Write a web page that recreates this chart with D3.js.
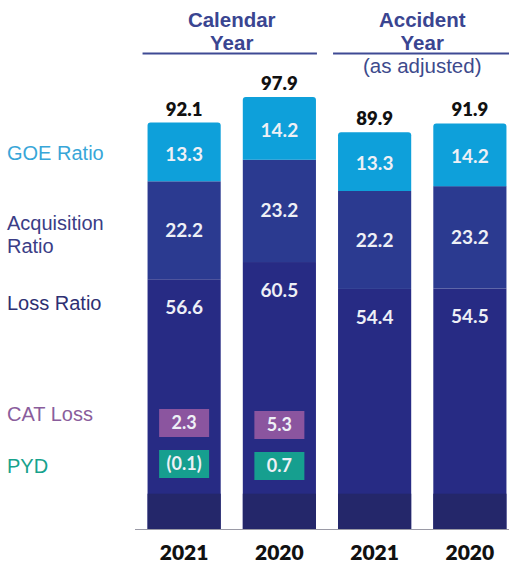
<!DOCTYPE html>
<html><head><meta charset="utf-8">
<script src="https://cdn.jsdelivr.net/npm/d3@7"></script>
<style>
html,body{margin:0;padding:0;background:#fff;}
svg{display:block;}
</style></head>
<body>
<svg id="chart" width="509" height="567"></svg>
<script>
// ---- data ----
const ids = ["cy2021", "cy2020", "ay2021", "ay2020"];
const years = ["2021", "2020", "2021", "2020"];
const groups = ["Calendar Year", "Calendar Year", "Accident Year", "Accident Year"];
const lossRatio = [56.6, 60.5, 54.4, 54.5];
const acqRatio = [22.2, 23.2, 22.2, 23.2];
const goeRatio = [13.3, 14.2, 13.3, 14.2];
const totals = [92.1, 97.9, 89.9, 91.9];
const catLoss = [2.3, 5.3, null, null];
const pyd = [-0.1, 0.7, null, null];
const seriesNames = ["Loss Ratio", "Acquisition Ratio", "GOE Ratio"];
const legendLabels = [["GOE Ratio"], ["Acquisition", "Ratio"], ["Loss Ratio"], ["CAT Loss"], ["PYD"]];
const baseBandValue = 8;

// ---- styling ----
const colors = {"Loss Ratio": "#272b84", "Acquisition Ratio": "#2b3a90", "GOE Ratio": "#0ea0da"};
const legendColors = ["#38a6d8", "#3a3d86", "#2d2f72", "#8a5d9c", "#17a28c"];
const legendY = [160, 230, 310, 421, 473];
const boxRowY = [424, 465];

const svg = d3.select("#chart");
const x = d3.scaleBand().domain(ids).range([136.5, 517.5]).paddingInner(0.232).paddingOuter(0.116);
const y = d3.scaleLinear().domain([0, 97.9]).range([529, 97]);
const bw = x.bandwidth();

const rows = ids.map((id, i) => ({id, "Loss Ratio": lossRatio[i], "Acquisition Ratio": acqRatio[i], "GOE Ratio": goeRatio[i]}));
const stacked = d3.stack().keys(seriesNames)(rows);

function roundTop(x0, y0, w, h, r) {
  return `M${x0},${y0 + h}V${y0 + r}Q${x0},${y0} ${x0 + r},${y0}H${x0 + w - r}Q${x0 + w},${y0} ${x0 + w},${y0 + r}V${y0 + h}Z`;
}

// bars
stacked.forEach(s => {
  const g = svg.append("g");
  s.forEach((d, i) => {
    const x0 = x(ids[i]), y0 = y(d[1]), h = y(d[0]) - y(d[1]);
    if (s.key === "GOE Ratio") {
      g.append("path").attr("d", roundTop(x0, y0, bw, h, 3)).attr("fill", colors[s.key]);
    } else {
      g.append("rect").attr("x", x0).attr("y", y0).attr("width", bw).attr("height", h).attr("fill", colors[s.key]);
    }
  });
});

// darker base band
svg.append("g").selectAll("rect").data(ids).join("rect")
  .attr("x", d => x(d)).attr("y", y(baseBandValue)).attr("width", bw)
  .attr("height", y(0) - y(baseBandValue)).attr("fill", "#24276a");

// axis line
svg.append("line").attr("x1", 135).attr("x2", 509).attr("y1", y(0) + 0.5).attr("y2", y(0) + 0.5)
  .attr("stroke", "#9a9aa6").attr("stroke-width", 1.2);

const numFont = "Lato, 'Open Sans', sans-serif";

// segment labels
stacked.forEach(s => {
  s.forEach((d, i) => {
    const cx = x(ids[i]) + bw / 2;
    let cy;
    if (s.key === "Loss Ratio") cy = y(d[1]) + 28;
    else if (s.key === "GOE Ratio") cy = (y(d[0]) + y(d[1])) / 2 + 2;
    else cy = (y(d[0]) + y(d[1])) / 2;
    svg.append("text").attr("x", cx).attr("y", cy).attr("dy", "0.35em")
      .attr("text-anchor", "middle").attr("fill", "#eef0f6")
      .style("font-family", numFont).style("font-weight", "700").style("font-size", "19px")
      .text(d.data[s.key].toFixed(1));
  });
});

// totals
svg.append("g").selectAll("text").data(ids).join("text")
  .attr("x", d => x(d) + bw / 2).attr("y", (d, i) => y(totals[i]) - 7)
  .attr("text-anchor", "middle").attr("fill", "#111")
  .style("font-family", numFont).style("font-weight", "800").style("font-size", "18.5px")
  .text((d, i) => totals[i].toFixed(1));

// year labels
svg.append("g").selectAll("text").data(ids).join("text")
  .attr("x", d => x(d) + bw / 2).attr("y", 560)
  .attr("text-anchor", "middle").attr("fill", "#111")
  .style("font-family", numFont).style("font-weight", "800").style("font-size", "21px")
  .text((d, i) => years[i]);

// CAT / PYD boxes
const fmt = v => v < 0 ? `(${Math.abs(v).toFixed(1)})` : v.toFixed(1);
[[catLoss, "#8b559f"], [pyd, "#169f8f"]].forEach(([arr, col], r) => {
  arr.forEach((v, i) => {
    if (v === null) return;
    const cx = x(ids[i]) + bw / 2;
    const cy = boxRowY[r] - 1 + i * 2;
    svg.append("rect").attr("x", cx - 25).attr("y", cy - 14).attr("width", 50).attr("height", 28).attr("fill", col);
    svg.append("text").attr("x", cx).attr("y", cy).attr("dy", "0.35em").attr("text-anchor", "middle")
      .attr("fill", "#eef0f6").style("font-family", numFont).style("font-weight", "700").style("font-size", "18px")
      .text(fmt(v));
  });
});

// legend labels on the left
legendLabels.forEach((lines, k) => {
  const t = svg.append("text").attr("x", 7).attr("y", legendY[k]).attr("fill", legendColors[k])
    .style("font-family", "'Liberation Sans', Arial, sans-serif").style("font-size", "20px");
  lines.forEach((ln, j) => t.append("tspan").attr("x", 7).attr("dy", j ? 23 : 0).text(ln));
});

// group headers
const groupNames = Array.from(new Set(groups));
groupNames.forEach((gname, gi) => {
  const members = ids.filter((d, i) => groups[i] === gname);
  const x0 = x(members[0]) - 5;
  const x1 = gi === groupNames.length - 1 ? 509 : x(members[members.length - 1]) + bw + 1;
  const cx = (x(members[0]) + x(members[members.length - 1]) + bw) / 2;
  const words = gname.split(" ");
  const t = svg.append("text").attr("x", cx).attr("y", 27).attr("text-anchor", "middle").attr("fill", "#3a4591")
    .style("font-family", "'Liberation Sans', Arial, sans-serif").style("font-weight", "700").style("font-size", "20.5px");
  words.forEach((w, j) => t.append("tspan").attr("x", cx).attr("dy", j ? 23 : 0).text(w));
  svg.append("line").attr("x1", x0).attr("x2", x1).attr("y1", 53.5).attr("y2", 53.5)
    .attr("stroke", "#3f4a94").attr("stroke-width", 2.2);
  if (gname === "Accident Year") {
    svg.append("text").attr("x", cx).attr("y", 73).attr("text-anchor", "middle").attr("fill", "#3d4a8c")
      .style("font-family", "'Liberation Sans', Arial, sans-serif").style("font-size", "20.5px").text("(as adjusted)");
  }
});
</script>
</body></html>
